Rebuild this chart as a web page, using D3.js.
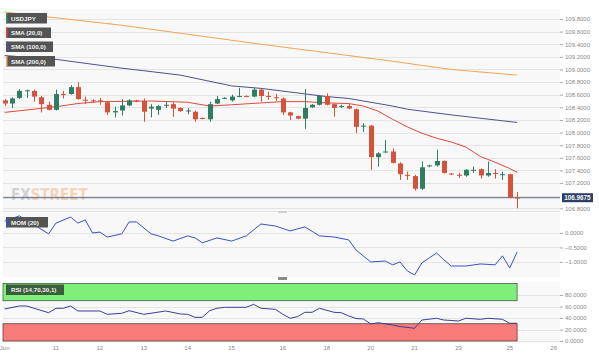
<!DOCTYPE html>
<html>
<head>
<meta charset="utf-8">
<script src="https://cdn.jsdelivr.net/npm/d3@7"></script>
<style>
  body { margin: 0; background: #fff; }
  svg { display: block; font-family: "Liberation Sans", Arial, sans-serif; }
</style>
</head>
<body>
<div id="chart"></div>
<script>
// USD/JPY 4h candles (open, high, low, close)
var opens  = [108.51,108.46,108.55,108.66,108.66,108.56,108.44,108.36,108.61,108.61,108.72,108.52,108.51,108.51,108.48,108.32,108.35,108.43,108.51,108.50,
              108.38,108.36,108.43,108.45,108.39,108.34,108.33,108.23,108.21,108.46,108.54,108.51,108.57,108.58,108.57,108.68,108.58,108.56,108.54,108.32,
              108.26,108.22,108.40,108.44,108.58,108.45,108.41,108.42,108.37,108.10,108.11,107.61,107.69,107.70,107.51,107.33,107.31,107.11,107.47,107.48,
              107.55,107.35,107.33,107.32,107.40,107.42,107.32,107.36,107.33,107.34,106.97];
var highs  = [108.53,108.56,108.69,108.68,108.68,108.58,108.49,108.68,108.66,108.75,108.80,108.57,108.53,108.55,108.50,108.41,108.53,108.53,108.52,108.54,
              108.45,108.44,108.49,108.48,108.40,108.39,108.35,108.24,108.49,108.58,108.56,108.60,108.71,108.59,108.71,108.70,108.65,108.61,108.56,108.33,
              108.27,108.69,108.45,108.59,108.62,108.46,108.44,108.46,108.38,108.15,108.12,107.69,107.88,107.75,107.53,107.38,107.33,107.54,107.49,107.73,
              107.56,107.36,107.36,107.42,107.46,107.43,107.54,107.42,107.38,107.35,107.06];
var lows   = [108.42,108.39,108.53,108.55,108.49,108.32,108.35,108.35,108.54,108.60,108.52,108.45,108.47,108.44,108.28,108.24,108.27,108.42,108.48,108.17,
              108.24,108.28,108.39,108.25,108.33,108.29,108.17,108.21,108.17,108.45,108.53,108.49,108.56,108.56,108.56,108.49,108.52,108.50,108.28,108.20,
              108.21,108.06,108.39,108.43,108.43,108.25,108.39,108.37,107.99,108.01,107.41,107.46,107.68,107.51,107.25,107.25,107.08,107.09,107.45,107.46,
              107.35,107.33,107.28,107.30,107.36,107.27,107.30,107.27,107.25,106.96,106.80];
var closes = [108.46,108.54,108.66,108.67,108.57,108.45,108.36,108.61,108.60,108.72,108.53,108.51,108.50,108.50,108.32,108.34,108.43,108.51,108.49,108.33,
              108.41,108.42,108.44,108.38,108.34,108.35,108.21,108.22,108.45,108.53,108.55,108.57,108.58,108.57,108.68,108.58,108.57,108.55,108.32,108.27,
              108.22,108.39,108.44,108.58,108.44,108.39,108.42,108.38,108.09,108.11,107.61,107.67,107.70,107.52,107.34,107.32,107.11,107.45,107.48,107.55,
              107.36,107.34,107.32,107.41,107.41,107.32,107.36,107.35,107.34,106.9675,106.9675];
var lastPrice = 106.9675;

// moving averages: [candle index, value]
var sma20  = [[0,108.32],[4,108.37],[7,108.41],[10,108.46],[13,108.49],[20,108.50],[25,108.48],[28,108.42],[31,108.44],[35,108.47],[38,108.49],
              [41,108.49],[44,108.47],[47,108.46],[49,108.42],[51,108.34],[53,108.21],[55,108.09],[57,107.99],[59,107.91],[61,107.85],[63,107.77],
              [65,107.62],[67,107.53],[69,107.43],[70,107.37]];
var sma100 = [[0,109.22],[7,109.16],[16,109.02],[19,108.98],[24,108.91],[31,108.74],[35,108.70],[44,108.57],[47,108.54],[53,108.42],[55,108.37],
              [61,108.28],[70,108.16]];
var sma200 = [[0,109.91],[16,109.70],[35,109.40],[53,109.13],[61,109.00],[70,108.91]];

// momentum (20)
var mom = [[0,0.41],[2,0.59],[6,-0.03],[7,0.34],[9,0.55],[10,0.34],[11,0.45],[12,0.00],[13,0.03],[14,-0.14],[16,-0.03],[17,0.38],[18,0.38],
           [20,-0.03],[21,-0.10],[23,-0.28],[25,-0.10],[26,-0.17],[27,-0.34],[29,-0.17],[31,-0.28],[33,-0.10],[35,0.31],[37,0.24],[39,0.07],
           [41,0.21],[43,-0.10],[45,-0.14],[47,-0.24],[48,-0.59],[50,-1.00],[52,-0.97],[53,-1.10],[54,-1.00],[55,-1.31],[56,-1.45],[57,-1.03],
           [58,-0.86],[59,-0.69],[60,-0.93],[61,-1.14],[63,-1.14],[65,-1.07],[67,-1.10],[68,-0.79],[69,-1.21],[70,-0.66]];

// RSI (14)
var rsi = [[0,55.7],[2,60.9],[3,60.9],[6,49.2],[7,56.9],[8,56.9],[9,60.9],[10,52.2],[13,52.2],[14,46.4],[16,48.2],[17,52.7],[19,46.4],[22,52.2],
           [24,47.0],[25,46.4],[26,41.2],[27,41.2],[28,52.7],[29,56.9],[30,58.6],[33,58.6],[34,63.8],[35,56.9],[37,55.1],[38,46.4],[39,39.5],
           [40,42.3],[41,49.9],[42,49.9],[43,56.9],[45,49.9],[46,49.2],[47,43.5],[48,39.1],[49,38.3],[50,29.6],[51,31.8],[53,27.8],[54,25.2],
           [56,22.1],[57,36.5],[59,39.5],[60,36.5],[62,34.8],[63,39.5],[65,37.7],[66,39.5],[68,37.7],[69,30.8],[70,30.8]];

var priceGrid = [109.8,109.6,109.4,109.2,109.0,108.8,108.6,108.4,108.2,108.0,107.8,107.6,107.4,107.2,107.0,106.8];
// 107.0000 sits under the last-price tag, so it gets no label
var priceTicks = [109.8,109.6,109.4,109.2,109.0,108.8,108.6,108.4,108.2,108.0,107.8,107.6,107.4,107.2,106.8];
var momTicks = [0, -0.5, -1.0];
var rsiTicks = [0, 20, 40, 60, 80];
var xTickIdx = [0, 7, 13, 19, 25, 31, 38, 44, 50, 56, 62, 69, 75];
var xTickLabels = ["Jun", "11", "12", "13", "14", "15", "16", "18", "20", "21", "23", "25", "26"];

var width = 599, height = 363;
var plotLeft = 3, plotRight = 560;

var svg = d3.select("#chart").append("svg")
    .attr("width", width)
    .attr("height", height);

var x = d3.scaleLinear().domain([0, 70]).range([4.7, 517.1]);
var yPrice = d3.scaleLinear().domain([106.757, 109.958]).range([211, 9]);
var yMom = d3.scaleLinear().domain([-1.52, 0.655]).range([277, 214]);
var yRsi = d3.scaleLinear().domain([0, 100]).range([341, 283.5]);

var fmt = d3.format(".4f");

// panel backgrounds
[[9, 211], [213, 277], [282, 343]].forEach(function(p) {
    svg.append("rect")
        .attr("x", plotLeft).attr("y", p[0])
        .attr("width", plotRight - plotLeft).attr("height", p[1] - p[0])
        .attr("fill", "#f8f8f8");
});

// gridlines
function grid(ticks, y) {
    svg.append("g").selectAll("line").data(ticks).enter().append("line")
        .attr("x1", plotLeft).attr("x2", plotRight)
        .attr("y1", function(d) { return Math.round(y(d)) + 0.5; })
        .attr("y2", function(d) { return Math.round(y(d)) + 0.5; })
        .attr("stroke", "#e4e4e4").attr("stroke-width", 1);
}
grid(priceGrid, yPrice);
grid(momTicks, yMom);
grid(rsiTicks, yRsi);

// panel separators
svg.append("line").attr("x1", plotLeft).attr("x2", plotRight).attr("y1", 211.5).attr("y2", 211.5).attr("stroke", "#e0e0e0");
svg.append("rect").attr("x", 278).attr("y", 211).attr("width", 9).attr("height", 2).attr("fill", "#cfcfcf");
svg.append("rect").attr("x", 278).attr("y", 277).attr("width", 9).attr("height", 3).attr("fill", "#8a8a8a");

// watermark
var wm = svg.append("text")
    .attr("x", 11).attr("y", 200)
    .style("font-size", "15px").style("font-weight", "bold")
    .style("font-family", "'DejaVu Sans Condensed', 'Liberation Sans Narrow', sans-serif")
    .attr("opacity", 0.4);
wm.append("tspan").attr("fill", "#9a9a9a").text("FX");
wm.append("tspan").attr("fill", "#f0a060").text("STREET");

// moving averages
var line = d3.line().x(function(d) { return x(d[0]); });
svg.append("path").datum(sma200)
    .attr("d", line.y(function(d) { return yPrice(d[1]); }))
    .attr("fill", "none").attr("stroke", "#f5a35a").attr("stroke-width", 1);
svg.append("path").datum(sma100)
    .attr("d", line.y(function(d) { return yPrice(d[1]); }))
    .attr("fill", "none").attr("stroke", "#50508f").attr("stroke-width", 1);
svg.append("path").datum(sma20)
    .attr("d", line.y(function(d) { return yPrice(d[1]); }))
    .attr("fill", "none").attr("stroke", "#e0483c").attr("stroke-width", 1);

// last price line
svg.append("line")
    .attr("x1", plotLeft).attr("x2", plotRight)
    .attr("y1", yPrice(lastPrice)).attr("y2", yPrice(lastPrice))
    .attr("stroke", "#5a6882").attr("stroke-width", 1);

// candles
var up = "#2f7d62", down = "#d4533b";
var candles = d3.range(opens.length);
var cg = svg.append("g");
cg.selectAll(".wick").data(candles).enter().append("line")
    .attr("class", "wick")
    .attr("x1", function(i) { return Math.round(x(i)) + 0.5; })
    .attr("x2", function(i) { return Math.round(x(i)) + 0.5; })
    .attr("y1", function(i) { return yPrice(highs[i]); })
    .attr("y2", function(i) { return yPrice(lows[i]); })
    .attr("stroke", function(i) { return closes[i] >= opens[i] ? up : down; })
    .attr("stroke-width", 1);
cg.selectAll(".body").data(candles).enter().append("rect")
    .attr("class", "body")
    .attr("x", function(i) { return Math.round(x(i)) - 2; })
    .attr("width", 5)
    .attr("y", function(i) { return yPrice(Math.max(opens[i], closes[i])); })
    .attr("height", function(i) { return Math.max(1, Math.abs(yPrice(opens[i]) - yPrice(closes[i]))); })
    .attr("fill", function(i) { return closes[i] >= opens[i] ? up : down; });

// RSI bands
var bandRight = x(70);
svg.append("rect")
    .attr("x", plotLeft).attr("y", yRsi(100))
    .attr("width", bandRight - plotLeft).attr("height", yRsi(70) - yRsi(100))
    .attr("fill", "#7ef07a").attr("stroke", "#3d4a3d").attr("stroke-width", 0.7);
svg.append("rect")
    .attr("x", plotLeft).attr("y", yRsi(30))
    .attr("width", bandRight - plotLeft).attr("height", yRsi(0) - yRsi(30))
    .attr("fill", "#f77b78").attr("stroke", "#4a3535").attr("stroke-width", 0.7);

// MOM and RSI lines
svg.append("path").datum(mom)
    .attr("d", line.y(function(d) { return yMom(d[1]); }))
    .attr("fill", "none").attr("stroke", "#3a52c4").attr("stroke-width", 1);
svg.append("path").datum(rsi)
    .attr("d", line.y(function(d) { return yRsi(d[1]); }))
    .attr("fill", "none").attr("stroke", "#3a3f9a").attr("stroke-width", 1);

// right axes
function rightAxis(scale, ticks) {
    var g = svg.append("g")
        .attr("transform", "translate(" + plotRight + ",0)")
        .call(d3.axisRight(scale).tickValues(ticks).tickSize(3).tickPadding(2).tickFormat(fmt));
    g.select(".domain").remove();
    g.selectAll("line").attr("stroke", "#aaa");
    g.selectAll("text").attr("fill", "#888").style("font-size", "6px")
        .style("font-family", "'Liberation Sans', Arial, sans-serif");
}
rightAxis(yPrice, priceTicks);
rightAxis(yMom, momTicks);
rightAxis(yRsi, rsiTicks);

// last price label
svg.append("rect")
    .attr("x", plotRight + 2).attr("y", yPrice(lastPrice) - 4.5)
    .attr("width", 31).attr("height", 9).attr("fill", "#2e3f66");
svg.append("text")
    .attr("x", plotRight + 17.5).attr("y", yPrice(lastPrice) + 2.2)
    .attr("text-anchor", "middle").attr("fill", "#fff")
    .style("font-size", "6.3px").style("font-weight", "bold")
    .text(fmt(lastPrice));

// x labels
svg.append("g").selectAll("text").data(xTickIdx).enter().append("text")
    .attr("x", function(d) { return x(d); })
    .attr("y", 350)
    .attr("text-anchor", "middle")
    .attr("fill", "#888")
    .style("font-size", "6px")
    .text(function(d, i) { return xTickLabels[i]; });

// legend tags
function tag(x0, y0, w, label, stripe, bg) {
    svg.append("rect").attr("x", x0).attr("y", y0).attr("width", w).attr("height", 10.5).attr("fill", bg);
    svg.append("rect").attr("x", x0).attr("y", y0).attr("width", 1.5).attr("height", 10.5).attr("fill", stripe);
    svg.append("text").attr("x", x0 + 5).attr("y", y0 + 7.6)
        .attr("fill", "#f2f2f2").style("font-size", "6.2px").style("font-weight", "bold")
        .text(label);
}
tag(6, 13, 41, "USDJPY", "#2f8f6a", "#545454");
tag(6, 27.5, 45, "SMA (20,0)", "#e0483c", "#545454");
tag(6, 41.5, 47, "SMA (100,0)", "#50508f", "#545454");
tag(6, 56, 49, "SMA (200,0)", "#f5a35a", "#545454");
tag(6, 217, 42, "MOM (20)", "#3a52c4", "#545454");
tag(6, 284.5, 58, "RSI (14,70,30,1)", "#2f5f2f", "#3b5d3b");
</script>
</body>
</html>
